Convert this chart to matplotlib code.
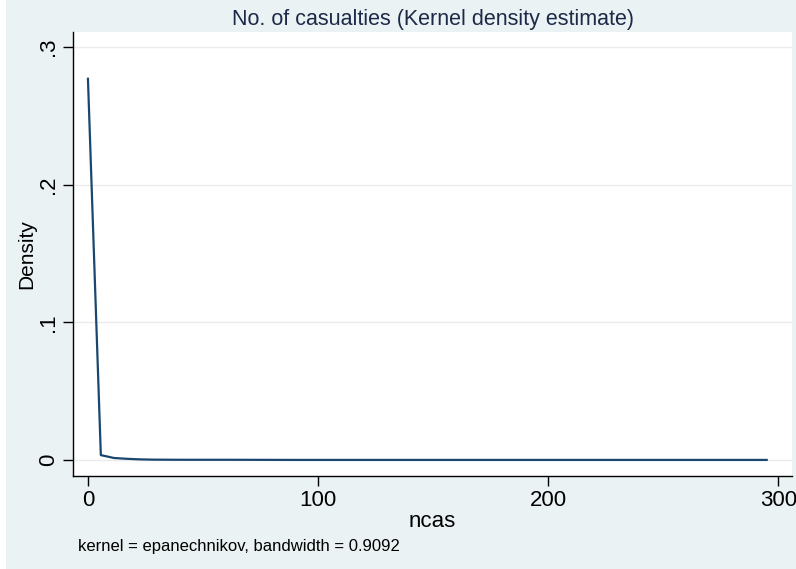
#!/usr/bin/env python3

import matplotlib
matplotlib.use("Agg")
import matplotlib.pyplot as plt
from matplotlib.patches import Rectangle

# kernel density estimate of ncas
ncas = [0, 5.6, 11.3, 17.0, 22.6, 28.3, 40, 60, 90, 120, 150, 180, 210, 240, 270, 295]
density = [0.277, 0.0036, 0.0015, 0.0009, 0.0005, 0.0003, 0.0002, 0.0002,
           0.0001, 0.0001, 0.0001, 0.0001, 0.0001, 0.0001, 0.0001, 0.0001]

x_ticks = [0, 100, 200, 300]
y_ticks = [0, 0.1, 0.2, 0.3]
y_labels = ["0", ".1", ".2", ".3"]

plt.rcParams["font.family"] = ["Liberation Sans", "DejaVu Sans"]

bg = "#eaf2f3"
navy = "#1a476f"

fig = plt.figure(figsize=(7.96, 5.69), dpi=100, facecolor=bg)

# thin white strip on the left edge
fig.patches.append(Rectangle((0, 0), 6 / 796, 1, transform=fig.transFigure,
                             facecolor="white", edgecolor="none"))

ax = fig.add_axes([0.0917, 0.1634, 0.9033, 0.7804])
ax.set_facecolor("white")

# grid lines
for y in y_ticks:
    ax.axhline(y, color="#ebebeb", linewidth=1.0, zorder=0)

ax.plot(ncas, density, color=navy, linewidth=1.6, zorder=2)

ax.set_xlim(-6.5, 306.0)
ax.set_ylim(-0.0116, 0.3110)

ax.set_xticks(x_ticks)
ax.set_yticks(y_ticks)
ax.set_yticklabels(y_labels, rotation=90, va="center")

ax.tick_params(axis="both", direction="out", length=7, width=1, color="black",
               labelsize=16, pad=3)
ax.tick_params(axis="x", pad=3)

for s in ["top", "right"]:
    ax.spines[s].set_visible(False)
for s in ["left", "bottom"]:
    ax.spines[s].set_color("black")
    ax.spines[s].set_linewidth(1.0)

ax.set_xlabel("ncas", fontsize=16, labelpad=0)
ax.set_ylabel("Density", fontsize=15, labelpad=1)
ax.set_title("No. of casualties (Kernel density estimate)", fontsize=15.5,
             color="#1c2a48", pad=5)

fig.text(78 / 796, 1 - 547 / 569, "kernel = epanechnikov, bandwidth = 0.9092",
         fontsize=12, va="center", ha="left")

plt.savefig("out.png", dpi=100, facecolor=bg)
plt.close()
